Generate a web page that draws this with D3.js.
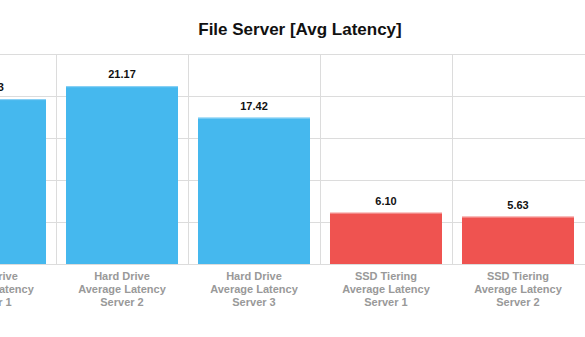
<!DOCTYPE html>
<html><head><meta charset="utf-8">
<script src="https://cdn.jsdelivr.net/npm/d3@7"></script>
<style>html,body{margin:0;padding:0;background:#fff;overflow:hidden}svg{display:block}</style>
</head><body><svg id="c" width="585" height="337"></svg>
<script>
const title = "File Server [Avg Latency]";
const categories = [
  ["Hard Drive", "Average Latency", "Server 1"],
  ["Hard Drive", "Average Latency", "Server 2"],
  ["Hard Drive", "Average Latency", "Server 3"],
  ["SSD Tiering", "Average Latency", "Server 1"],
  ["SSD Tiering", "Average Latency", "Server 2"]
];
const values = [19.63, 21.17, 17.42, 6.10, 5.63];
const groups = ["hdd", "hdd", "hdd", "ssd", "ssd"];
const yTicks = [0, 5, 10, 15, 20, 25];
const colors = {hdd: "#45b8ee", ssd: "#ef5350"};
const topColors = {hdd: "#8fd3f5", ssd: "#f59a98"};

const svg = d3.select("#c");
const keys = categories.map(c => c.join(" "));
const x = d3.scaleBand().domain(keys).range([-76, 584]).paddingInner(0.1515).paddingOuter(0.0758);
const xc = d3.scaleBand().domain(keys).range([-76, 584]).padding(0);
const y = d3.scaleLinear().domain([0, 25]).range([264, 54]);

svg.append("text").attr("x", 300).attr("y", 35).attr("text-anchor", "middle")
  .attr("font-family", "Liberation Sans, Arial, sans-serif").attr("font-weight", "bold")
  .attr("font-size", 17).attr("fill", "#111").text(title);

const g = svg.append("g");
g.selectAll("line.h").data(yTicks).join("line")
  .attr("x1", -76).attr("x2", 585)
  .attr("y1", d => Math.round(y(d)) + 0.5).attr("y2", d => Math.round(y(d)) + 0.5)
  .attr("stroke", "#dcdcdc").attr("stroke-width", 1);
g.selectAll("line.v").data(keys.slice(1)).join("line")
  .attr("x1", d => Math.round(xc(d)) + 0.5).attr("x2", d => Math.round(xc(d)) + 0.5)
  .attr("y1", y(25)).attr("y2", y(0))
  .attr("stroke", "#dcdcdc").attr("stroke-width", 1);

g.selectAll("rect.bar").data(values).join("rect")
  .attr("x", (d, i) => x(keys[i])).attr("width", x.bandwidth())
  .attr("y", d => y(d)).attr("height", d => y(0) - y(d))
  .attr("fill", (d, i) => colors[groups[i]]);
g.selectAll("rect.top").data(values).join("rect")
  .attr("x", (d, i) => x(keys[i])).attr("width", x.bandwidth())
  .attr("y", d => y(d)).attr("height", 1)
  .attr("fill", (d, i) => topColors[groups[i]]);

g.selectAll("text.val").data(values).join("text")
  .attr("x", (d, i) => x(keys[i]) + x.bandwidth() / 2)
  .attr("y", d => y(d) - 8)
  .attr("text-anchor", "middle")
  .attr("font-family", "Liberation Sans, Arial, sans-serif").attr("font-weight", "bold")
  .attr("font-size", 11).attr("fill", "#111")
  .text(d => d.toFixed(2));

const lab = g.selectAll("text.cat").data(categories).join("text")
  .attr("text-anchor", "middle")
  .attr("font-family", "Liberation Sans, Arial, sans-serif").attr("font-weight", "bold")
  .attr("font-size", 11).attr("fill", "#999");
lab.each(function(lines, i) {
  const t = d3.select(this);
  lines.forEach((ln, j) => {
    t.append("tspan").attr("x", x(keys[i]) + x.bandwidth() / 2)
      .attr("y", 280 + j * 13).text(ln);
  });
});
</script></body></html>
